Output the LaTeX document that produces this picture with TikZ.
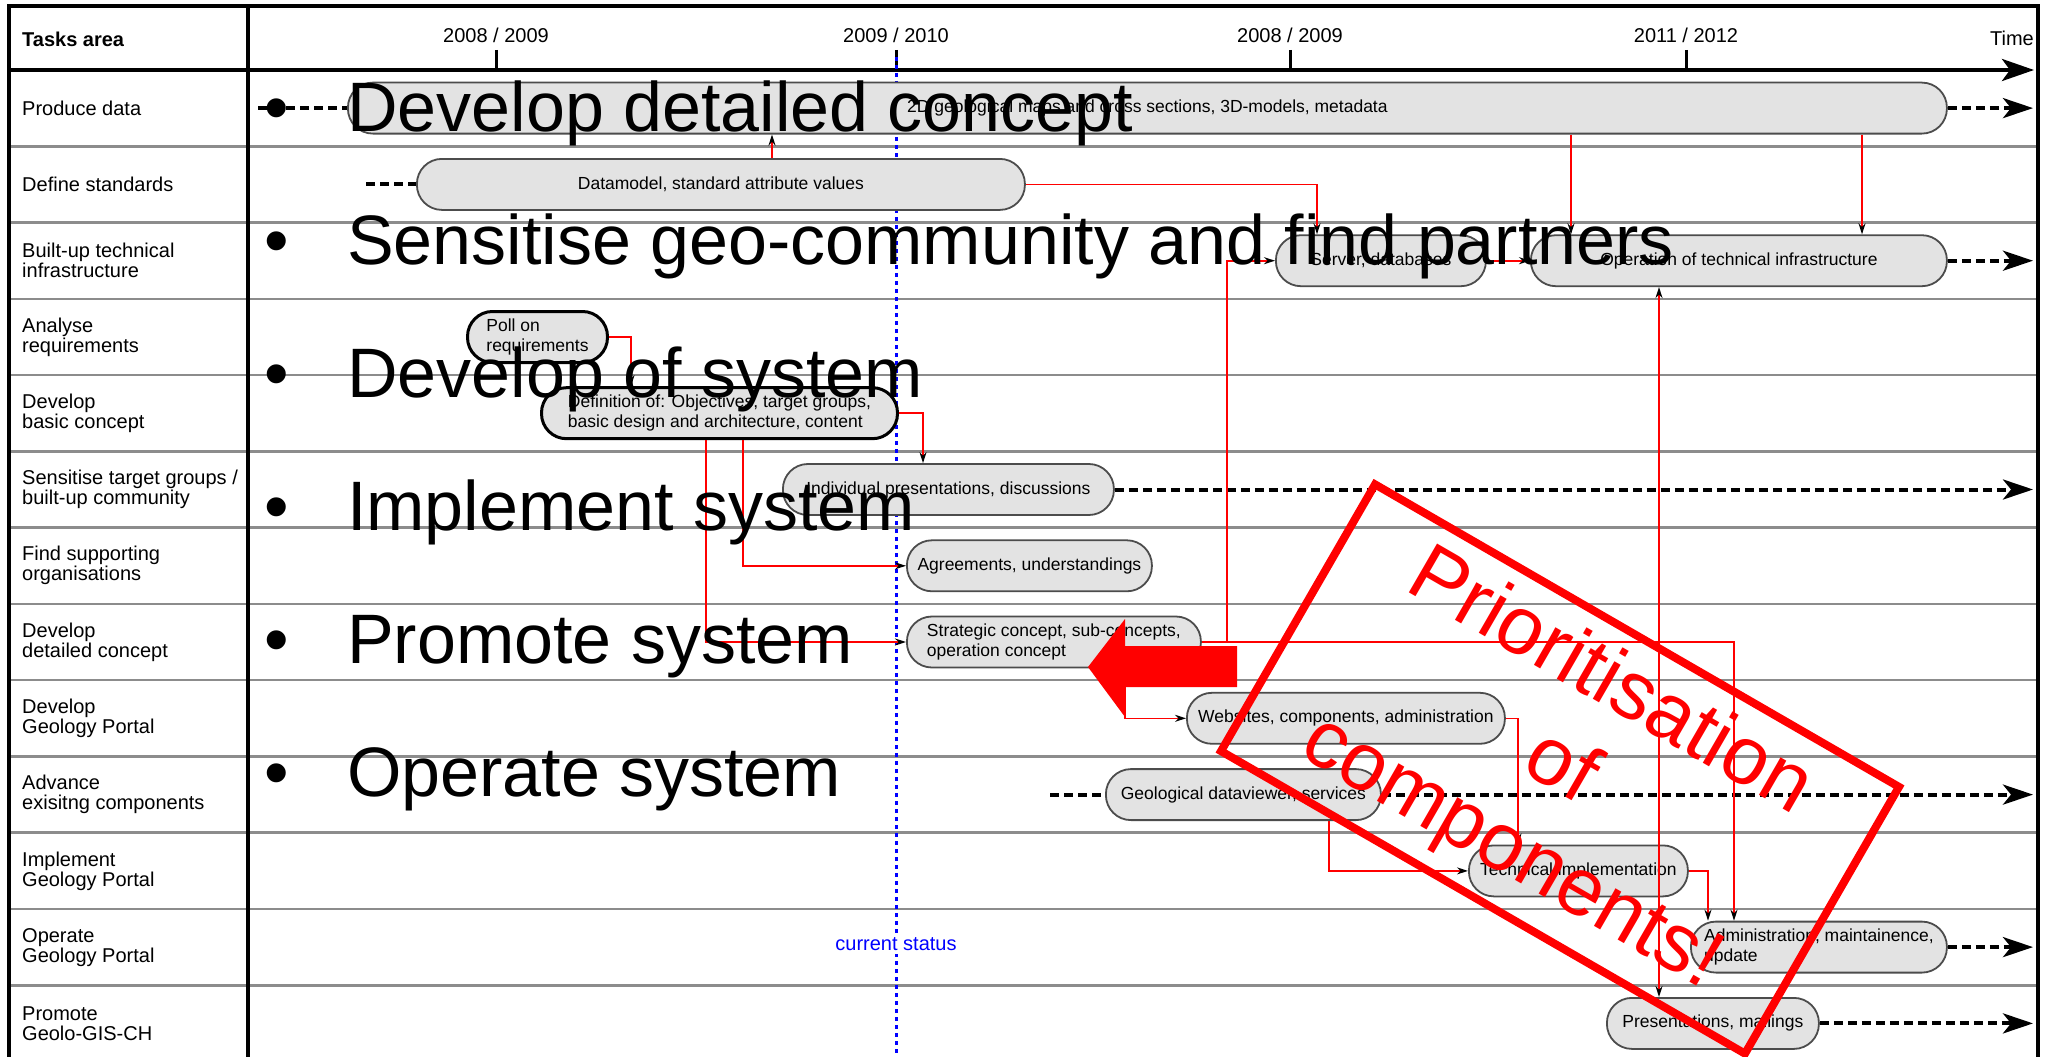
\documentclass[tikz,border=0pt]{standalone}
\usepackage{fontspec}
\setmainfont{Liberation Sans}
\usetikzlibrary{arrows.meta, calc, positioning}

\begin{document}
\begin{tikzpicture}[x=1pt, y=-1pt,
	every node/.style={inner sep=0pt},
	lbl/.style={anchor=west, align=left, font=\fontsize{20}{20}\selectfont},
	task/.style={anchor=west, draw=black!70, fill=black!11, line width=1.8pt, rounded corners=25pt, minimum height=51pt, align=center, font=\fontsize{17.5}{20}\selectfont},
	keytask/.style={task, draw=black, line width=3pt},
	rowline/.style={draw=black!45, line width=2.5pt},
	cont/.style={line width=4pt, dash pattern=on 9pt off 5pt},
	contarr/.style={cont, -{Stealth[length=30pt, width=20pt, inset=8pt]}},
	link/.style={draw=red, line width=1.6pt, -{Stealth[length=11pt, width=7pt, black]}},
	big/.style={font=\fontsize{70}{70}\selectfont, anchor=base west}]
		\useasboundingbox (0,0) rectangle (2051,1057);
		\clip (0,0) rectangle (2051,1057);
		\fill[white] (0,0) rectangle (2051,1057);
		% rows and frame
		\foreach \i in {1,...,12}
			\draw[rowline] (9, {70+76.27*\i}) -- (2038, {70+76.27*\i});
		\draw[line width=4pt] (9,1080) -- (9,6) -- (2038,6) -- (2038,1080);
		\draw[line width=3.5pt] (248,6) -- (248,1080);
		\draw[line width=4pt, -{Stealth[length=32pt, width=22pt, inset=8pt]}] (9,70) -- (2034,70);
		\foreach \x/\yr [count=\k] in {496/{2008 / 2009}, 896/{2009 / 2010}, 1290/{2008 / 2009}, 1686/{2011 / 2012}} {
			\draw[line width=3pt] (\x,50) -- (\x,70);
			\node[font=\fontsize{20}{20}\selectfont, anchor=base] (yr\k) at (\x,43) {\yr};
		}
		\node[lbl, font=\bfseries\fontsize{20}{20}\selectfont] (hdr) at (22,39) {Tasks area};
		\node[lbl, anchor=base east] (time) at (2034,46) {Time};
		\coordinate (tend) at (2033,0);

		% current status
		\draw[blue, line width=3pt, dash pattern=on 4pt off 4pt] (896,57) -- (896,1080);
		\node[fill=white, inner sep=3pt, text=blue, font=\fontsize{20}{20}\selectfont] (now) at (896,944) {current status};

		% task areas
		\node[lbl] (t1) at (22,108.1) {Produce data};
		\node[lbl] (t2) at (22,184.4) {Define standards};
		\node[lbl] (t3) at (22,260.7) {Built-up technical\\infrastructure};
		\node[lbl] (t4) at (22,337.0) {Analyse\\requirements};
		\node[lbl] (t5) at (22,413.2) {Develop\\basic concept};
		\node[lbl] (t6) at (22,489.5) {Sensitise target groups /\\built-up community};
		\node[lbl] (t7) at (22,565.8) {Find supporting\\organisations};
		\node[lbl] (t8) at (22,642.0) {Develop\\detailed concept};
		\node[lbl] (t9) at (22,718.3) {Develop\\Geology Portal};
		\node[lbl] (t10) at (22,794.6) {Advance\\exisitng components};
		\node[lbl] (t11) at (22,870.9) {Implement\\Geology Portal};
		\node[lbl] (t12) at (22,947.1) {Operate\\Geology Portal};
		\node[lbl] (t13) at (22,1023.4) {Promote\\Geolo-GIS-CH};

		% tasks
		\node[task, minimum width=1599pt] (prod) at (347,108.1) {2D geological maps and cross sections, 3D-models, metadata};
		\node[task, minimum width=608pt] (dmod) at (416,184.4) {Datamodel, standard attribute values};
		\node[task, minimum width=210pt] (srv) at (1275,260.7) {Server, databases};
		\node[task, minimum width=416pt] (ops) at (1530,260.7) {Operation of technical infrastructure};
		\node[keytask, minimum width=140pt, align=left] (poll) at (466,337.0) {Poll on\\requirements};
		\node[keytask, minimum width=356pt, align=left] (defn) at (540,413.2) {Definition of: Objectives, target groups,\\basic design and architecture, content};
		\node[task, minimum width=331pt] (indiv) at (782,489.5) {Individual presentations, discussions};
		\node[task, minimum width=245pt] (agree) at (906,565.8) {Agreements, understandings};
		\node[task, minimum width=294pt, align=left] (strat) at (906,642.0) {Strategic concept, sub-concepts,\\operation concept};
		\node[task, minimum width=318pt] (web) at (1186,718.3) {Websites, components, administration};
		\node[task, minimum width=275pt] (geo) at (1105,794.6) {Geological dataviewer, services};
		\node[task, minimum width=219pt] (tech) at (1468,870.9) {Technical implementation};
		\node[task, minimum width=256pt, align=left] (admin) at (1690,947.1) {Administration, maintainence,\\update};
		\node[task, minimum width=212pt] (pres) at (1606,1023.4) {Presentations, mailings};

		% continuing activities
		\coordinate (prodin) at (258,108.1);
		\coordinate (dmodin) at (366,184.4);
		\coordinate (geoin) at (1050,794.6);
		\draw[cont] (prodin) -- (prod.west);
		\draw[cont] (dmodin) -- (dmod.west);
		\draw[cont] (geoin) -- (geo.west);
		\draw[contarr] (prod.east) -- (prod.east -| tend);
		\draw[contarr] (ops.east) -- (ops.east -| tend);
		\draw[contarr] (indiv.east) -- (indiv.east -| tend);
		\draw[contarr] (geo.east) -- (geo.east -| tend);
		\draw[contarr] (admin.east) -- (admin.east -| tend);
		\draw[contarr] (pres.east) -- (pres.east -| tend);

		% dependencies
		\coordinate (xdp) at (772,0);
		\coordinate (xds) at (1317,0);
		\coordinate (xpo) at (1571,0);
		\coordinate (xpq) at (1862,0);
		\coordinate (xpd) at (631,0);
		\coordinate (xdi) at (923,0);
		\coordinate (xdst) at (706,0);
		\coordinate (xda) at (743,0);
		\coordinate (xss) at (1227,0);
		\coordinate (xsa) at (1734,0);
		\coordinate (xsp) at (1659,0);
		\coordinate (xsw) at (1125,0);
		\coordinate (xwt) at (1518,0);
		\coordinate (xgt) at (1329,0);
		\coordinate (xta) at (1708,0);
		\draw[link] (dmod.north -| xdp) -- (prod.south -| xdp);
		\draw[link] (dmod.east) -| (xds |- srv.north);
		\draw[link] (prod.south -| xpo) -- (ops.north -| xpo);
		\draw[link] (prod.south -| xpq) -- (ops.north -| xpq);
		\draw[link] (srv.east) -- (ops.west);
		\draw[link] (poll.east) -| (xpd |- defn.north);
		\draw[link] (defn.east) -| (xdi |- indiv.north);
		\draw[link] (defn.south -| xdst) |- (strat.west);
		\draw[link] (defn.south -| xda) |- (agree.west);
		\draw[link] (strat.east) -| (xss |- srv.west) -- (srv.west);
		\draw[link] (strat.east) -| (xsa |- admin.north);
		\draw[link] (xsp |- strat.east) -- (xsp |- ops.south);
		\draw[link] (xsp |- strat.east) -- (xsp |- pres.north);
		\draw[link] (strat.south -| xsw) |- (web.west);
		\draw[link] (web.east) -| (xwt |- tech.north);
		\draw[link] (geo.south -| xgt) |- (tech.west);
		\draw[link] (tech.east) -| (xta |- admin.north);

		% phases
		\foreach \t [count=\k] in {Develop detailed concept, Sensitise geo-community and find partners, Develop of system, Implement system, Promote system, Operate system} {
			\node[big] (ph\k) at (347, {131+133*(\k-1)}) {\t};
			\node[big, anchor=base] (bu\k) at (277, {131+133*(\k-1)}) {\textbullet};
		}

		% prioritisation
		\node[draw=red, line width=8pt, rotate=-30, minimum width=605pt, minimum height=308pt, text=red, align=center, font=\fontsize{82}{98}\selectfont] (stamp) at (1560,769) {Prioritisation\\of\\components!};
		\fill[red] (1088,667) -- (1125,619) -- (1125,646) -- (1237,646) -- (1237,687) -- (1125,687) -- (1125,717) -- cycle;
	\end{tikzpicture}
\end{document}
